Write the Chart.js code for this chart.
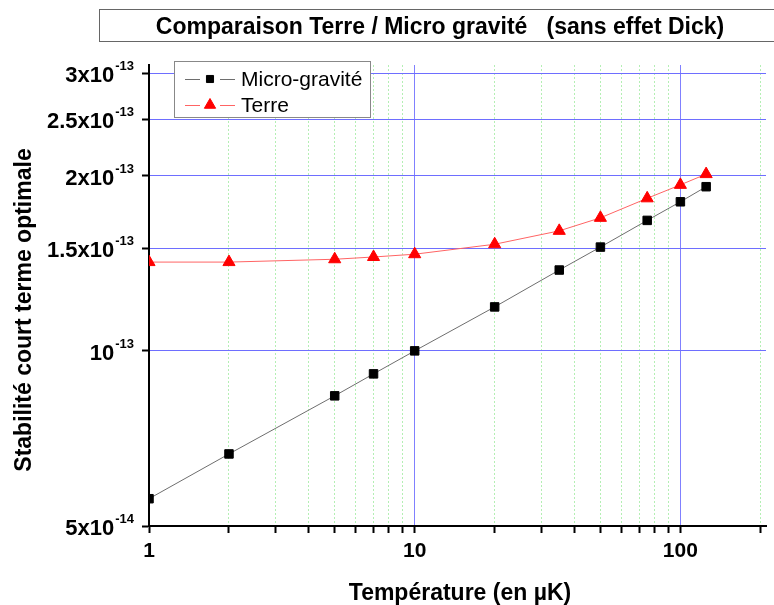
<!DOCTYPE html>
<html><head><meta charset="utf-8">
<script src="https://cdn.jsdelivr.net/npm/chart.js@4/dist/chart.umd.min.js"></script>
<style>html,body{margin:0;padding:0;background:#fff;} #wrap{width:774px;height:605px;position:relative;}</style>
</head><body><div id="wrap"><canvas id="c" width="774" height="605"></canvas></div>
<script>
// ---- data ----
const temperatures = [1, 2, 5, 7, 10, 20, 35, 50, 75, 100, 125];
const microGravite = [5.57e-14, 6.65e-14, 8.37e-14, 9.13e-14, 1.0e-13, 1.19e-13, 1.377e-13, 1.508e-13, 1.676e-13, 1.804e-13, 1.915e-13];
const terre = [1.421e-13, 1.421e-13, 1.437e-13, 1.450e-13, 1.466e-13, 1.525e-13, 1.608e-13, 1.693e-13, 1.829e-13, 1.929e-13, 2.013e-13];
const xTicks = [1, 2, 3, 4, 5, 6, 7, 8, 9, 10, 20, 30, 40, 50, 60, 70, 80, 90, 100, 200];
const xLabeled = [1, 10, 100];
const yTicks = [5e-14, 1e-13, 1.5e-13, 2e-13, 2.5e-13, 3e-13];
const yTickMantissa = ['5x10', '10', '1.5x10', '2x10', '2.5x10', '3x10'];
const yTickExponent = ['-14', '-13', '-13', '-13', '-13', '-13'];
const seriesNames = ['Micro-gravité', 'Terre'];
const titleText = 'Comparaison Terre / Micro gravité   (sans effet Dick)';
const xTitle = 'Température (en µK)';
const yTitle = 'Stabilité court terme optimale';

const FONT = "'Liberation Sans', Arial, sans-serif";

const decorPlugin = {
  id: 'decor',
  afterDraw(chart) {
    const ctx = chart.ctx;
    const yScale = chart.scales.y;
    ctx.save();
    // title box
    ctx.strokeStyle = '#666';
    ctx.lineWidth = 1;
    ctx.strokeRect(99.5, 9.5, 700, 32);
    ctx.fillStyle = '#000';
    ctx.font = 'bold 23px ' + FONT;
    ctx.textAlign = 'center';
    ctx.textBaseline = 'alphabetic';
    ctx.fillText(titleText, 440, 34);

    // y tick labels with superscripts
    yTicks.forEach((v, i) => {
      const py = yScale.getPixelForValue(v);
      ctx.font = 'bold 13px ' + FONT;
      const sw = ctx.measureText(yTickExponent[i]).width;
      ctx.textAlign = 'left';
      const supX = 134 - sw;
      ctx.fillText(yTickExponent[i], supX, py - 3);
      ctx.font = 'bold 22px ' + FONT;
      ctx.textAlign = 'right';
      ctx.fillText(yTickMantissa[i], supX - 1, py + 9);
    });

    // axis titles
    ctx.font = 'bold 23px ' + FONT;
    ctx.textAlign = 'center';
    ctx.fillText(xTitle, 460, 600);
    ctx.save();
    ctx.translate(31, 310);
    ctx.rotate(-Math.PI / 2);
    ctx.fillText(yTitle, 0, 0);
    ctx.restore();

    // legend
    ctx.fillStyle = '#fff';
    ctx.fillRect(174.5, 61.5, 196, 56);
    ctx.strokeStyle = '#888';
    ctx.lineWidth = 1;
    ctx.strokeRect(174.5, 61.5, 196, 56);
    const rows = [79, 105];
    chart.data.datasets.forEach((ds, i) => {
      const y = rows[i];
      ctx.strokeStyle = ds.borderColor;
      ctx.lineWidth = 1;
      ctx.beginPath();
      ctx.moveTo(185, y + 0.5); ctx.lineTo(200, y + 0.5);
      ctx.moveTo(220, y + 0.5); ctx.lineTo(235, y + 0.5);
      ctx.stroke();
      ctx.fillStyle = ds.pointBackgroundColor;
      ctx.strokeStyle = ds.pointBorderColor;
      Chart.helpers.drawPoint(ctx, {pointStyle: ds.pointStyle, radius: ds.pointRadius - (i === 0 ? 1 : 0.5), rotation: 0, borderWidth: 1}, 210, y);
      ctx.fillStyle = '#000';
      ctx.font = '21px ' + FONT;
      ctx.textAlign = 'left';
      ctx.fillText(seriesNames[i], 241, y + 7);
    });
    ctx.restore();
  }
};

const majorX = v => v === 10 || v === 100;

new Chart(document.getElementById('c'), {
  type: 'line',
  data: {
    datasets: [
      {
        label: seriesNames[0],
        data: temperatures.map((t, i) => ({x: t, y: microGravite[i]})),
        borderColor: '#6e6e6e', borderWidth: 1,
        pointStyle: 'rect', pointRadius: 6, pointHoverRadius: 6,
        pointBackgroundColor: '#000', pointBorderColor: '#000', pointBorderWidth: 1,
        tension: 0, fill: false
      },
      {
        label: seriesNames[1],
        data: temperatures.map((t, i) => ({x: t, y: terre[i]})),
        borderColor: '#ff6464', borderWidth: 1,
        pointStyle: 'triangle', pointRadius: 7, pointHoverRadius: 7,
        pointBackgroundColor: '#ff0000', pointBorderColor: '#ff0000', pointBorderWidth: 1,
        tension: 0, fill: false
      }
    ]
  },
  options: {
    responsive: false, animation: false, devicePixelRatio: 1,
    layout: {padding: {top: 65, right: 5, left: 0, bottom: 0}},
    plugins: {legend: {display: false}, title: {display: false}, tooltip: {enabled: false}},
    events: [],
    scales: {
      x: {
        type: 'logarithmic', position: 'bottom', min: 1, max: 210,
        afterBuildTicks: s => { s.ticks = xTicks.map(v => ({value: v})); },
        afterFit: s => { s.height = 79; },
        ticks: {
          autoSkip: false, maxRotation: 0, minRotation: 0, padding: 6, color: '#000',
          font: {family: FONT, weight: 'bold', size: 21},
          callback: v => xLabeled.includes(v) ? String(v) : ''
        },
        grid: {
          color: c => (c.tick && c.tick.value === 1) ? 'rgba(0,0,0,0)' : (c.tick && majorX(c.tick.value) ? '#8080ff' : '#b4efb4'),
          lineWidth: 1, tickColor: '#000', tickLength: 7, tickWidth: 2, drawTicks: true
        },
        border: {color: '#000', width: 2, dash: c => (c.tick && majorX(c.tick.value)) ? [] : [2, 2]}
      },
      y: {
        type: 'logarithmic', position: 'left', min: 5e-14, max: 3.1e-13,
        afterBuildTicks: s => { s.ticks = yTicks.map(v => ({value: v})); },
        afterFit: s => { s.width = 149; },
        ticks: {display: false},
        grid: {
          color: c => (c.tick && c.tick.value === 5e-14) ? 'rgba(0,0,0,0)' : '#6e6eff',
          lineWidth: 1, tickColor: '#000', tickLength: 7, tickWidth: 2, drawTicks: true
        },
        border: {color: '#000', width: 2}
      }
    }
  },
  plugins: [decorPlugin]
});
</script>
</body></html>
